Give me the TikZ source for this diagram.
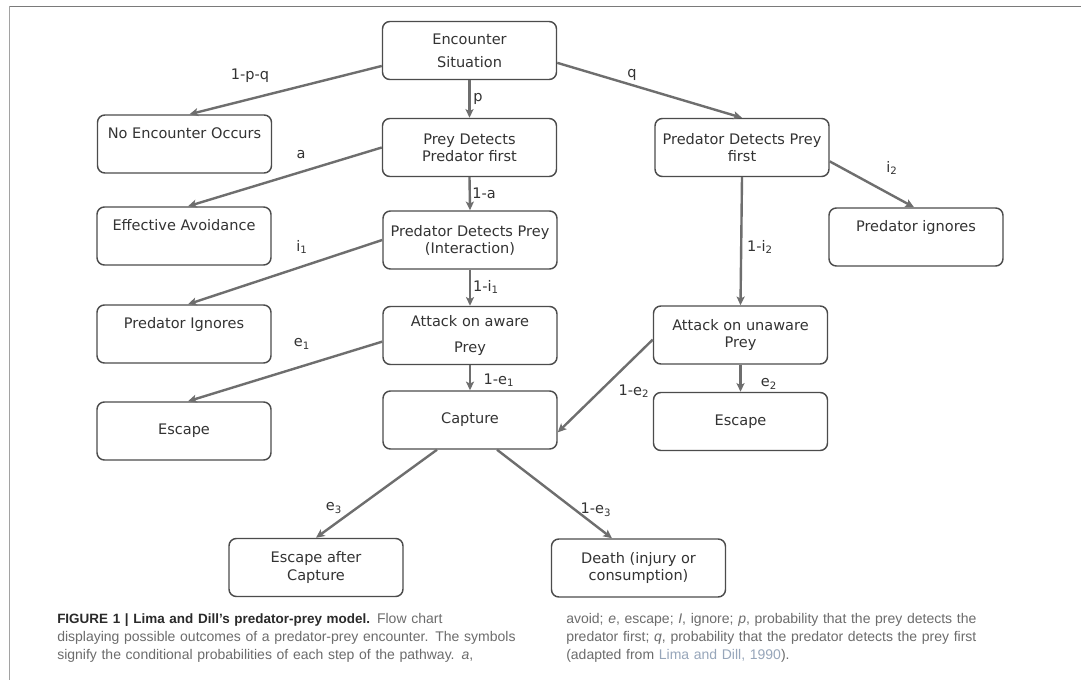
\documentclass[tikz,border=0pt]{standalone}
\usepackage{fontspec}
\setmainfont{DejaVu Sans}
\newfontfamily\captionfont{Liberation Sans}
\usetikzlibrary{arrows.meta,calc}
\definecolor{framegray}{HTML}{7A7A7A}
\definecolor{boxline}{HTML}{4C4C4C}
\definecolor{boxtext}{HTML}{333333}
\definecolor{arrowgray}{HTML}{6E6E6E}
\definecolor{captext}{HTML}{6C6C6C}
\definecolor{caphead}{HTML}{2A2A2A}
\definecolor{citelink}{HTML}{97A6BA}

\begin{document}
\begin{tikzpicture}[x=0.75pt,y=-0.75pt,
  outcome/.style={draw=boxline,line width=1.1pt,rounded corners=5.5pt,
    minimum width=130.5pt,minimum height=43.5pt,inner sep=0pt,align=center,
    text=boxtext,font=\fontsize{10.9}{12.8}\selectfont},
  flow/.style={draw=arrowgray,line width=1.8pt,
    -{Stealth[length=6.5pt,width=6pt,inset=1.5pt]}},
  prob/.style={inner sep=0pt,text=boxtext,font=\fontsize{10.9}{12.8}\selectfont},
  captioncol/.style={anchor=north west,inner sep=0pt,text=captext,
    font=\captionfont\fontsize{10.5}{13.6}\selectfont}]

% page and frame
\fill[white] (0,0) rectangle (1081,680);
\useasboundingbox (0,0) rectangle (1081,680);
\draw[framegray,line width=1.4pt] (9,6.5) -- (1081,6.5);
\draw[framegray!70,line width=1pt] (9.5,6) -- (9.5,680);

% outcome boxes
\node[outcome] (enc)       at (469.5,50.5) {Encounter\\[4.5pt]Situation};
\node[outcome] (noenc)     at (184.5,144)  {No Encounter Occurs\\\strut};
\node[outcome] (preyfirst) at (469.5,147.5){Prey Detects\\Predator first};
\node[outcome] (predfirst) at (742,147.5)  {Predator Detects Prey\\first};
\node[outcome] (avoid)     at (184,236)    {Effective Avoidance\\\strut};
\node[outcome] (inter)     at (470,240)    {Predator Detects Prey\\(Interaction)};
\node[outcome] (pign)      at (916,237)    {Predator ignores\\\strut};
\node[outcome] (pIgn)      at (184,334)    {Predator Ignores\\\strut};
\node[outcome] (aware)     at (470,335.5)  {Attack on aware\\[6.5pt]Prey};
\node[outcome] (unaware)   at (740.5,335)  {Attack on unaware\\Prey};
\node[outcome] (escL)      at (184,431)    {Escape};
\node[outcome] (capture)   at (470,420)    {Capture};
\node[outcome] (escR)      at (740.5,421.5){Escape};
\node[outcome] (escCap)    at (316,567.5)  {Escape after\\Capture};
\node[outcome] (death)     at (638.5,568)  {Death (injury or\\consumption)};

% connectors
\draw[flow] (enc.190) -- ($(noenc.north)+(5,0)$);
\draw[flow] (enc.south) -- (preyfirst.north);
\draw[flow] (enc.-8) -- (predfirst.north);
\draw[flow] (preyfirst.west) -- ($(avoid.north)+(4,0)$);
\draw[flow] (preyfirst.south) -- (inter.north);
\draw[flow] (predfirst.-9.5) -- ($(pign.north)+(-2,0)$);
\draw[flow] (predfirst.south) -- (unaware.north);
\draw[flow] (inter.west) -- ($(pIgn.north)+(4,0)$);
\draw[flow] (inter.south) -- (aware.north);
\draw[flow] (aware.184) -- ($(escL.north)+(4,0)$);
\draw[flow] (aware.south) -- (capture.north);
\draw[flow] (unaware.183) -- (capture.-8.5);
\draw[flow] (unaware.south) -- (escR.north);
\draw[flow] ($(capture.south)+(-33,0)$) -- (escCap.north);
\draw[flow] ($(capture.south)+(27,0)$) -- ($(death.north)+(-26.5,0)$);

% probabilities
\node[prob] (lpq)  at (250,76)  {1-p-q};
\node[prob] (lp)   at (478,99)  {p};
\node[prob] (lq)   at (632,75)  {q};
\node[prob] (la)   at (301,155) {a};
\node[prob] (l1a)  at (484,193) {1-a};
\node[prob] (li2)  at (892,168) {i\textsubscript{2}};
\node[prob] (l1i2) at (760,247) {1-i\textsubscript{2}};
\node[prob] (li1)  at (302,247) {i\textsubscript{1}};
\node[prob] (l1i1) at (486,287) {1-i\textsubscript{1}};
\node[prob] (le1)  at (302,344) {e\textsubscript{1}};
\node[prob] (l1e1) at (499,380) {1-e\textsubscript{1}};
\node[prob] (l1e2) at (634,391) {1-e\textsubscript{2}};
\node[prob] (le2)  at (769,384) {e\textsubscript{2}};
\node[prob] (le3)  at (334,508) {e\textsubscript{3}};
\node[prob] (l1e3) at (596,510) {1-e\textsubscript{3}};

% caption, two columns
\node[captioncol,text width=339.75pt] (capleft) at (57,613)
  {\noindent{\color{caphead}\bfseries\fontsize{10.1}{13.6}\selectfont FIGURE 1 | Lima and Dill’s predator-prey model.} Flow chart\\
   \makebox[339.75pt][s]{displaying possible outcomes of a predator-prey encounter. The symbols}\\
   signify the conditional probabilities of each step of the pathway. \textit{a},};
\node[captioncol,text width=338.25pt] (capright) at (566,613)
  {\noindent\makebox[338.25pt][s]{avoid; \textit{e}, escape; \textit{I}, ignore; \textit{p}, probability that the prey detects the}\\
   \makebox[338.25pt][s]{predator first; \textit{q}, probability that the predator detects the prey first}\\
   (adapted from {\color{citelink}Lima and Dill, 1990}).};
\end{tikzpicture}
\end{document}
